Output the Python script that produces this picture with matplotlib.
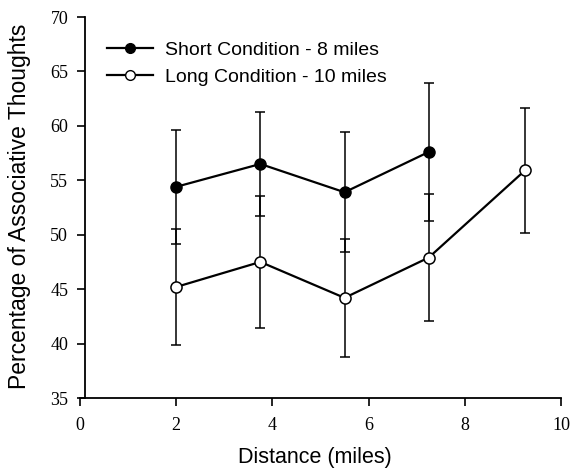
import matplotlib
matplotlib.use("Agg")
import matplotlib.pyplot as plt
from matplotlib.lines import Line2D

# Data
short_x = [2, 3.75, 5.5, 7.25]
short_y = [54.4, 56.5, 53.9, 57.6]
short_err = [5.25, 4.75, 5.5, 6.3]

long_x = [2, 3.75, 5.5, 7.25, 9.25]
long_y = [45.2, 47.5, 44.2, 47.9, 55.9]
long_err = [5.3, 6.1, 5.45, 5.85, 5.7]

x_ticks = [0, 2, 4, 6, 8, 10]
y_ticks = [35, 40, 45, 50, 55, 60, 65, 70]
labels = ["Short Condition - 8 miles", "Long Condition - 10 miles"]

W, H = 571, 473
fig = plt.figure(figsize=(W / 100, H / 100), dpi=100)
ax = fig.add_axes([80 / W, 1 - 398 / H, (561 - 80) / W, (398 - 17) / H])

ax.errorbar(short_x, short_y, yerr=short_err, color="black", lw=1.6,
            elinewidth=1.1, capsize=3.5, capthick=1.1, marker="o", ms=8,
            mfc="black", mec="black", zorder=3)
ax.errorbar(long_x, long_y, yerr=long_err, color="black", lw=1.6,
            elinewidth=1.1, capsize=3.5, capthick=1.1, marker="o", ms=8,
            mfc="white", mec="black", mew=1.1, zorder=3)

ax.set_xlim(0, 10)
ax.set_ylim(35, 70)
ax.set_xticks(x_ticks)
ax.set_yticks(y_ticks)
ax.spines["top"].set_visible(False)
ax.spines["right"].set_visible(False)
ax.spines["left"].set_position(("data", 0.1))
for s in ("left", "bottom"):
    ax.spines[s].set_linewidth(1.3)
ax.tick_params(direction="out", length=6, width=1.2)
ax.tick_params(axis="x", pad=8)
ax.tick_params(axis="y", pad=6)
for lab in ax.get_xticklabels() + ax.get_yticklabels():
    lab.set_fontfamily("Liberation Serif")
    lab.set_fontsize(13)

ax.set_xlabel("Distance (miles)", fontfamily="Liberation Sans", fontsize=15.5)
ax.xaxis.set_label_coords((314.5 - 80) / 481, (398 - 447) / 381)
ax.set_ylabel("Percentage of Associative Thoughts", fontfamily="Liberation Sans",
              fontsize=16.5)
ax.yaxis.set_label_coords((31 - 80) / 481, (398 - 206) / 381)

handles = [
    Line2D([], [], color="black", lw=1.6, marker="o", ms=7, mfc="black", mec="black"),
    Line2D([], [], color="black", lw=1.6, marker="o", ms=7, mfc="white", mec="black"),
]
fig.legend(handles, labels, loc="upper left",
           bbox_to_anchor=(107 / W, 1 - 41 / H), frameon=False, borderpad=0,
           borderaxespad=0, handlelength=2.35, handletextpad=0.62,
           labelspacing=0.5, prop={"family": "Liberation Sans", "size": 14})

fig.savefig("out.png", dpi=100)
